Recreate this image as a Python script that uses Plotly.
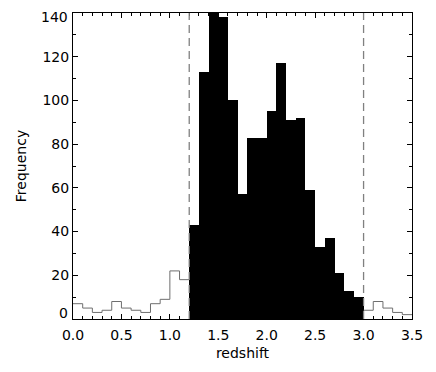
import plotly.graph_objs as go

# redshift histogram, bins of 0.1
bin_width = 0.1
left_counts = [7, 5, 3, 4, 8, 5, 4, 3, 7, 9, 22, 18]          # 0.0 - 1.2
mid_counts = [43, 113, 150, 138, 100, 57, 83, 83, 95, 117,
              91, 92, 59, 33, 37, 21, 13, 10]                   # 1.2 - 3.0
right_counts = [4, 8, 5, 3, 2]                                  # 3.0 - 3.5
cuts = [1.2, 3.0]
y_ticks = [0, 20, 40, 60, 80, 100, 120, 140]

font = dict(family='DejaVu Sans', size=14, color='black')


def step_xy(start, counts):
    xs = [round(start + i * bin_width, 2) for i in range(len(counts) + 1)]
    ys = counts + [counts[-1]]
    return xs, ys


fig = go.Figure()

xl, yl = step_xy(0.0, left_counts)
fig.add_trace(go.Scatter(x=xl, y=yl, mode='lines', line=dict(shape='hv', color='#6e6e6e', width=1),
                         hoverinfo='skip'))
xr, yr = step_xy(cuts[1], right_counts)
fig.add_trace(go.Scatter(x=xr, y=yr, mode='lines', line=dict(shape='hv', color='#6e6e6e', width=1),
                         hoverinfo='skip'))

centers = [round(cuts[0] + (i + 0.5) * bin_width, 3) for i in range(len(mid_counts))]
fig.add_trace(go.Bar(x=centers, y=mid_counts, width=bin_width,
                     marker=dict(color='black', line=dict(width=0))))

for c in cuts:
    fig.add_shape(type='line', x0=c, x1=c, xref='x', y0=0, y1=1, yref='paper',
                  line=dict(color='#808080', width=1.3, dash='8px,5px'))

# end labels of the y axis sit inside the axis range (IDL style), so draw them as annotations
y_text = ['' if v in (y_ticks[0], y_ticks[-1]) else str(v) for v in y_ticks]
for v, shift in [(y_ticks[0], 6), (y_ticks[-1], -4)]:
    fig.add_annotation(x=0, xref='paper', y=v, yref='y', text=str(v), showarrow=False,
                       xanchor='right', yanchor='middle', xshift=-3, yshift=shift, font=font)

axis_common = dict(showline=True, linecolor='black', linewidth=1, mirror='ticks',
                   ticks='inside', ticklen=5, tickcolor='black', showgrid=False,
                   zeroline=False, tickfont=font, automargin=False)

# page body adds an 8px offset, so the figure is a bit smaller than the window
fig.update_layout(
    template='none',
    width=428, height=364,
    margin=dict(l=65, r=24, t=5, b=53),
    paper_bgcolor='white', plot_bgcolor='white',
    showlegend=False, bargap=0,
    font=font,
    xaxis=dict(range=[0, 3.5], dtick=0.5, tickformat='.1f', ticklabelstandoff=3,
               minor=dict(dtick=0.1, ticks='inside', ticklen=3, tickcolor='black'),
               title=dict(text='redshift', font=font, standoff=6), **axis_common),
    yaxis=dict(range=[0, 140], tickvals=y_ticks, ticktext=y_text, ticklabelstandoff=0,
               minor=dict(dtick=10, ticks='inside', ticklen=3, tickcolor='black'),
               title=dict(text='Frequency', font=font, standoff=12), **axis_common),
)

fig.write_html('out.html')
